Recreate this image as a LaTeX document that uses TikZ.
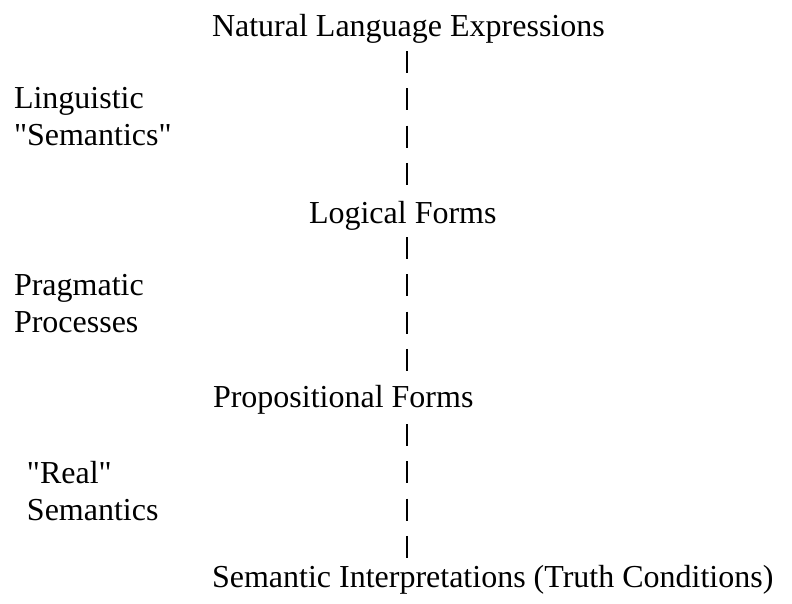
\documentclass[tikz,border=0pt]{standalone}
\usepackage{fontspec}
\setmainfont{Liberation Serif}[Ligatures=TeXOff]
\begin{document}
\begin{tikzpicture}[x=1pt,y=-1pt,
  lbl/.style={inner sep=0pt, outer sep=0pt, font=\fontsize{32}{36.5}\selectfont},
  level/.style={lbl, anchor=base west, text height=22pt, text depth=7pt},
  side/.style={lbl, anchor=base west, align=left},
  dashline/.style={line width=2.6pt, line cap=butt, dash pattern=on 22pt off 15.3pt}]
\useasboundingbox (0,0) rectangle (792,603);
\coordinate (spine) at (407,0);
\node[level] (nle) at (212,36) {Natural Language Expressions};
\node[level] (lf)  at (309,223) {Logical Forms};
\node[level] (pf)  at (213,407) {Propositional Forms};
\node[level] (si)  at (212,587) {Semantic Interpretations (Truth Conditions)};
\node[side] (ling) at (14,145) {Linguistic\\"Semantics"};
\node[side] (prag) at (14,332) {Pragmatic\\Processes};
\node[side] (real) at (27,520) {"Real"\\Semantics};
\draw[dashline, shorten <=8pt, shorten >=16pt] (nle.south -| spine) -- (lf.north -| spine);
\draw[dashline, shorten <=7pt, shorten >=13pt] (lf.south -| spine) -- (pf.north -| spine);
\draw[dashline, shorten <=10pt, shorten >=7pt] (pf.south -| spine) -- (si.north -| spine);
\end{tikzpicture}
\end{document}
